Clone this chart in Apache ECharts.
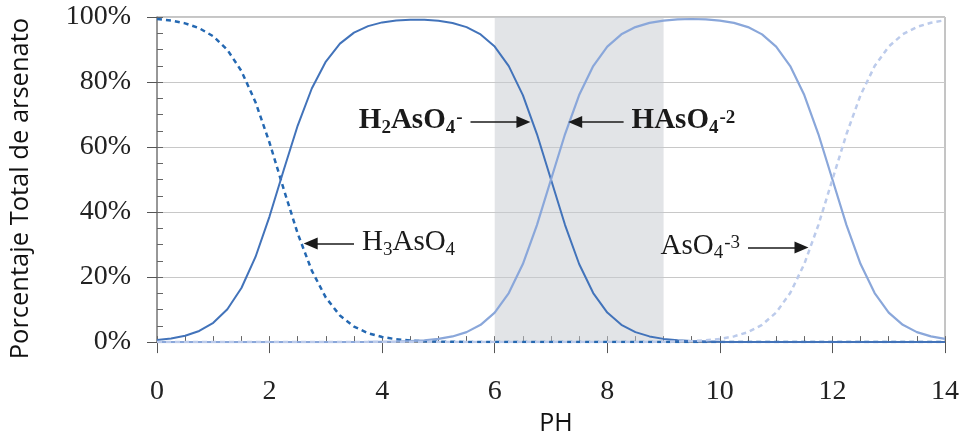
<!DOCTYPE html>
<html>
<head>
<meta charset="utf-8">
<script src="https://cdn.jsdelivr.net/npm/echarts@6/dist/echarts.min.js"></script>
<style>html,body{margin:0;padding:0;background:#fff;}#c{width:962px;height:441px;}</style>
</head>
<body>
<div id="c"></div>
<script>
// pH values (x)
const ph = [0,0.25,0.5,0.75,1,1.25,1.5,1.75,2,2.25,2.5,2.75,3,3.25,3.5,3.75,4,4.25,4.5,4.75,5,5.25,5.5,5.75,6,6.25,6.5,6.75,7,7.25,7.5,7.75,8,8.25,8.5,8.75,9,9.25,9.5,9.75,10,10.25,10.5,10.75,11,11.25,11.5,11.75,12,12.25,12.5,12.75,13,13.25,13.5,13.75,14];
// Percent of total arsenate per species
const h3aso4 = [99.37,98.89,98.04,96.57,94.07,89.91,83.37,73.81,61.31,47.12,33.39,21.99,13.68,8.18,4.77,2.74,1.56,0.88,0.50,0.28,0.16,0.09,0.05,0.03,0.02,0,0,0,0,0,0,0,0,0,0,0,0,0,0,0,0,0,0,0,0,0,0,0,0,0,0,0,0,0,0,0,0];
const h2aso4 = [0.63,1.11,1.96,3.43,5.93,10.09,16.63,26.19,38.69,52.88,66.61,78.01,86.31,91.80,95.20,97.20,98.34,98.94,99.19,99.16,98.85,98.17,96.88,94.65,90.89,84.90,75.98,64.00,50.00,36.00,24.02,15.09,9.09,5.32,3.07,1.75,0.99,0.56,0.31,0.18,0.10,0.06,0.03,0.02,0.01,0,0,0,0,0,0,0,0,0,0,0,0];
const haso4 = [0,0,0,0,0,0,0,0,0,0,0,0,0,0,0.03,0.05,0.10,0.18,0.31,0.56,0.99,1.74,3.07,5.32,9.09,15.09,24.02,36.00,50.00,64.00,75.98,84.91,90.90,94.67,96.90,98.20,98.91,99.26,99.38,99.26,98.91,98.19,96.90,94.66,90.91,84.91,75.98,64.00,50.00,36.00,24.02,15.09,9.09,5.32,3.07,1.75,0.99];
const aso4 = [0,0,0,0,0,0,0,0,0,0,0,0,0,0,0,0,0,0,0,0,0,0,0,0,0,0,0,0,0,0,0,0.01,0.01,0.02,0.03,0.06,0.10,0.18,0.31,0.56,0.99,1.75,3.07,5.32,9.09,15.09,24.02,36.00,50.00,64.00,75.98,84.91,90.91,94.68,96.93,98.25,99.01];
// Axis ticks
const xTicks = [0,2,4,6,8,10,12,14];
const yTicks = [0,20,40,60,80,100];
// Shaded pH band
const band = [6, 9];

const pair = arr => ph.map((x, i) => [x, arr[i]]);

const serif = 'Liberation Serif';
const ink = '#1a1a1a';
const rich = {
  b: {fontFamily: serif, fontWeight: 'bold', fontSize: 29, color: ink, verticalAlign: 'top'},
  bsub: {fontFamily: serif, fontWeight: 'bold', fontSize: 19, color: ink, verticalAlign: 'top', padding: [12, 0, 0, 0]},
  bsup: {fontFamily: serif, fontWeight: 'bold', fontSize: 19, color: ink, verticalAlign: 'top', padding: [2, 0, 0, 1]},
  n: {fontFamily: serif, fontSize: 29, color: ink, verticalAlign: 'top'},
  nsub: {fontFamily: serif, fontSize: 19, color: ink, verticalAlign: 'top', padding: [12, 0, 0, 0]},
  nsup: {fontFamily: serif, fontSize: 19, color: ink, verticalAlign: 'top', padding: [2, 0, 0, 1]}
};

function arrow(from, to, text) {
  return [
    {coord: from, label: {show: true, position: 'start', distance: 8, formatter: text, rich: rich}},
    {coord: to}
  ];
}

const annotations = [
  arrow([5.57, 67.7], [6.51, 67.7], '{b|H}{bsub|2}{b|AsO}{bsub|4}{bsup|-}'),
  arrow([8.29, 67.7], [7.43, 67.7], '{b|HAsO}{bsub|4}{bsup|-2}'),
  arrow([3.50, 30.3], [2.73, 30.3], '{n|H}{nsub|3}{n|AsO}{nsub|4}'),
  arrow([10.50, 29.1], [11.45, 29.1], '{n|AsO}{nsub|4}{nsup|-3}')
];

const chart = echarts.init(document.getElementById('c'), null, {renderer: 'canvas'});
chart.setOption({
  animation: false,
  backgroundColor: '#fff',
  grid: {left: 156, right: 17, top: 17, bottom: 87, show: true, borderColor: '#8a8a8a', borderWidth: 1},
  xAxis: [{
    type: 'value', min: 0, max: 14, interval: 2,
    name: 'PH', nameLocation: 'middle', nameGap: 62,
    nameTextStyle: {fontFamily: 'Open Sans', fontSize: 25, color: '#111', padding: [0, 0, 0, 10]},
    axisLine: {show: true, lineStyle: {color: '#888', width: 1.5}},
    axisTick: {show: true, inside: false, length: 11, lineStyle: {color: '#555'}},
    axisLabel: {fontFamily: serif, fontSize: 28, color: '#222', margin: 36,
      formatter: v => xTicks.includes(v) ? String(v) : ''},
    splitLine: {show: false}
  }, {
    type: 'value', min: 0, max: 14, interval: 0.5, position: 'bottom',
    axisLine: {show: false},
    axisTick: {show: true, inside: true, length: 6, lineStyle: {color: '#666'}},
    axisLabel: {show: false}, splitLine: {show: false}
  }],
  yAxis: [{
    type: 'value', min: 0, max: 100, interval: 20,
    name: 'Porcentaje Total de arsenato', nameLocation: 'middle', nameGap: 123,
    nameTextStyle: {fontFamily: 'Open Sans', fontSize: 25.5, color: '#111', padding: [0, 18, 0, 0]},
    axisLine: {show: true, lineStyle: {color: '#888', width: 1.5}},
    axisTick: {show: true, inside: false, length: 10, lineStyle: {color: '#555'}},
    axisLabel: {fontFamily: serif, fontSize: 28, color: '#222', margin: 26,
      formatter: v => yTicks.includes(v) ? v + '%' : ''},
    splitLine: {show: true, lineStyle: {color: '#c8c8c8', width: 1}}
  }, {
    type: 'value', min: 0, max: 100, interval: 5, position: 'left',
    axisLine: {show: false},
    axisTick: {show: true, inside: true, length: 6, lineStyle: {color: '#666'}},
    axisLabel: {show: false}, splitLine: {show: false}
  }],
  series: [{
    name: 'H3AsO4', type: 'line', data: pair(h3aso4), showSymbol: false, symbol: 'none',
    lineStyle: {color: '#2468b2', width: 2.5, type: [5, 4]},
    markArea: {silent: true, itemStyle: {color: 'rgba(198,201,207,0.5)'},
      data: [[{xAxis: band[0]}, {xAxis: band[1]}]]},
    z: 2
  }, {
    name: 'H2AsO4', type: 'line', data: pair(h2aso4), showSymbol: false, symbol: 'none',
    lineStyle: {color: '#4273ba', width: 2}, z: 3
  }, {
    name: 'HAsO4', type: 'line', data: pair(haso4), showSymbol: false, symbol: 'none',
    lineStyle: {color: '#8aa7da', width: 2.2}, z: 4
  }, {
    name: 'AsO4', type: 'line', data: pair(aso4), showSymbol: false, symbol: 'none',
    lineStyle: {color: '#bccbeb', width: 2.5, type: [5, 4]}, z: 4,
    markLine: {
      silent: true, symbol: ['none', 'triangle'], symbolSize: [12, 14],
      lineStyle: {color: '#1a1a1a', width: 1.5, type: 'solid'},
      emphasis: {disabled: true},
      data: annotations
    }
  }]
});
</script>
</body>
</html>
